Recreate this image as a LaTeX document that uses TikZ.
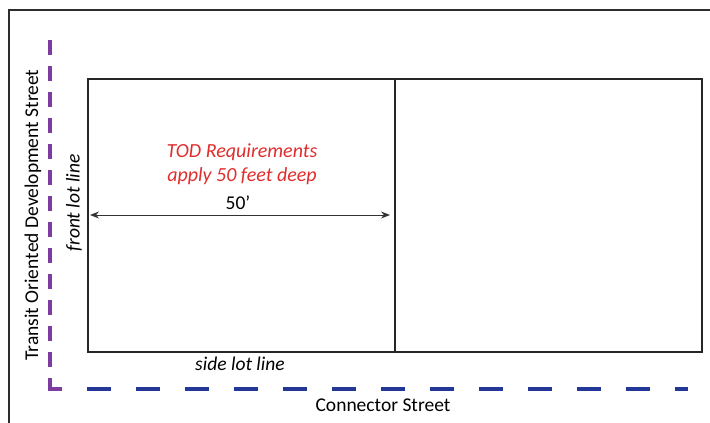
\documentclass[tikz,border=0pt]{standalone}
\usepackage{fontspec}
\setmainfont{Carlito}
\usetikzlibrary{arrows.meta}
\definecolor{framegray}{RGB}{45,45,45}
\definecolor{todred}{RGB}{224,45,45}
\definecolor{todpurple}{RGB}{125,60,160}
\definecolor{conblue}{RGB}{35,55,150}
\tikzset{
  frameline/.style={draw=framegray,line width=2.2pt},
  lotline/.style={draw=black!85,line width=2.4pt},
  lbl/.style={inner sep=0pt,font=\fontsize{19.5}{23}\selectfont},
  ilbl/.style={inner sep=0pt,font=\fontsize{19.5}{23}\selectfont\itshape},
}
\begin{document}
\begin{tikzpicture}[x=1pt,y=-1pt]
\useasboundingbox (0,0) rectangle (710,423);
% outer frame (top and left visible)
\draw[frameline] (9,430) -- (9,10) -- (720,10);
% lots
\coordinate (tl) at (88,79);
\coordinate (br) at (702,352);
\coordinate (mt) at (395,79);
\coordinate (mb) at (395,352);
\draw[lotline] (tl) rectangle (br);
\draw[lotline] (mt) -- (mb);
% dimension arrow
\coordinate (al) at (90,215);
\coordinate (ar) at (390,215);
\draw[black!80,line width=1pt,{Stealth[length=9pt,width=7pt]}-{Stealth[length=9pt,width=7pt]}] (al) -- (ar);
\node[lbl,anchor=south] (dim) at (238,210) {50’};
% TOD text
\node[ilbl,text=todred,align=center,font=\fontsize{20}{24}\selectfont\itshape] (tod) at (242,164) {TOD Requirements\\apply 50 feet deep};
% streets
\coordinate (corner) at (50,389);
\draw[todpurple,line width=4pt] (50,378) -- (corner) -- (62,389);
\draw[todpurple,line width=4pt,dash pattern=on 15pt off 11pt,dash phase=15pt] (50,378) -- (50,30);
\draw[conblue,line width=4pt,dash pattern=on 24pt off 25pt,dash phase=24pt] (62,389) -- (688,389);
% labels
\node[lbl,rotate=90] (tods) at (33,215) {Transit Oriented Development Street};
\node[ilbl,rotate=90] (front) at (74,203) {front lot line};
\node[ilbl] (side) at (240,364) {side lot line};
\node[lbl] (conn) at (383,405) {Connector Street};
\end{tikzpicture}
\end{document}
